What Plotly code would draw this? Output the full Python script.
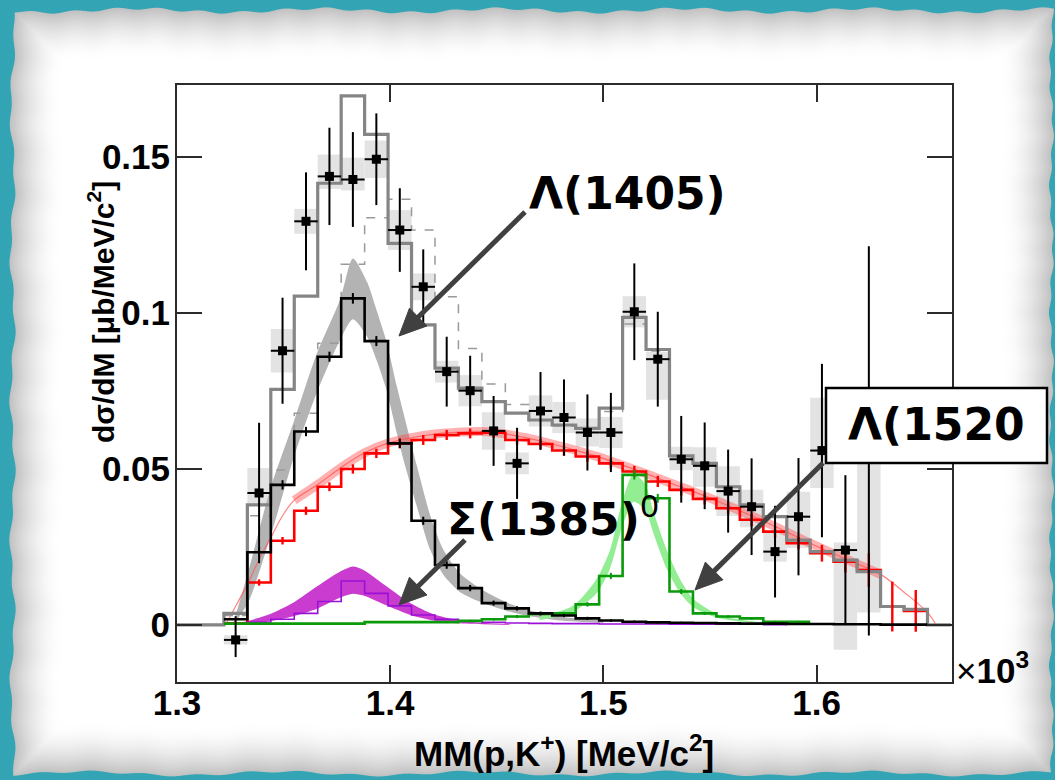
import base64
import struct
import zlib

import numpy as np
import plotly.graph_objects as go

# ---------------------------------------------------------------- binning
bin_edges = [1.322, 1.333, 1.344, 1.355, 1.366, 1.377, 1.388, 1.399, 1.410,
             1.421, 1.432, 1.443, 1.454, 1.465, 1.476, 1.487, 1.498, 1.509,
             1.520, 1.531, 1.542, 1.553, 1.564, 1.575, 1.586, 1.597, 1.608,
             1.619, 1.630, 1.641, 1.652, 1.663]

# ---------------------------------------------------------------- measured spectrum
data_y = [-0.0048, 0.0423, 0.0879, 0.1294, 0.1438, 0.1428, 0.1493, 0.1266,
          0.1084, 0.0812, 0.0751, 0.0622, 0.0518, 0.0686, 0.0665, 0.0617,
          0.0617, 0.1004, 0.0852, 0.0531, 0.0510, 0.0429, 0.0379, 0.0235,
          0.0347, 0.0559, 0.0240, 0.0590]
data_stat = [0.0055, 0.0225, 0.0170, 0.0157, 0.0156, 0.0152, 0.0147, 0.0134,
             0.0120, 0.0112, 0.0112, 0.0112, 0.0114, 0.0125, 0.0122, 0.0122,
             0.0127, 0.0155, 0.0152, 0.0139, 0.0139, 0.0133, 0.0155, 0.0147,
             0.0188, 0.0278, 0.0240, 0.0624]
sys_up = [0.0015, 0.0080, 0.0070, 0.0040, 0.0070, 0.0070, 0.0060, 0.0064,
          0.0043, 0.0035, 0.0050, 0.0060, 0.0035, 0.0050, 0.0050, 0.0045,
          0.0050, 0.0050, 0.0024, 0.0040, 0.0060, 0.0080, 0.0054, 0.0064,
          0.0080, 0.0169, 0.0024, 0.0110]
sys_dn = [0.0015, 0.0040, 0.0070, 0.0040, 0.0040, 0.0035, 0.0060, 0.0064,
          0.0043, 0.0035, 0.0050, 0.0060, 0.0035, 0.0050, 0.0050, 0.0045,
          0.0050, 0.0050, 0.0130, 0.0035, 0.0067, 0.0080, 0.0066, 0.0032,
          0.0100, 0.0120, 0.0320, 0.0550]

# ---------------------------------------------------------------- fit histograms
total_fit = [0.0037, 0.0385, 0.0755, 0.1054, 0.1416, 0.1696, 0.1573, 0.1223,
             0.0962, 0.0823, 0.0759, 0.0716, 0.0679, 0.0657, 0.0641, 0.0630,
             0.0695, 0.0986, 0.0883, 0.0542, 0.0518, 0.0443, 0.0385, 0.0347,
             0.0272, 0.0235, 0.0208, 0.0171, 0.0059, 0.0050, 0.0]
alt_fit = [0.0030, 0.0350, 0.0497, 0.0679, 0.0903, 0.1156, 0.1305, 0.1365,
           0.1266, 0.1052, 0.0886, 0.0772, 0.0707, 0.0655, 0.0638, 0.0628,
           0.0684, 0.0965, 0.0878, 0.0540, 0.0516, 0.0441, 0.0383, 0.0345,
           0.0270, 0.0233, 0.0206, 0.0170, 0.0058, 0.0049, 0.0]
lambda1405 = [0.0018, 0.0233, 0.0449, 0.0620, 0.0860, 0.1047, 0.0910, 0.0582,
              0.0334, 0.0192, 0.0118, 0.0070, 0.0053, 0.0037, 0.0030, 0.0021,
              0.0014, 0.0010, 0.0008, 0.0007, 0.0006, 0.0005, 0.0004, 0.0004,
              0.0003, 0.0003, 0.0002, 0.0002, 0.0001, 0.0001]
lambda1405_err = [0.0010, 0.0015, 0.0015, 0.0015, 0.0016, 0.0017, 0.0016,
                  0.0015, 0.0013, 0.0012, 0.0010, 0.0008, 0.0007, 0.0006,
                  0.0005, 0.0005, 0.0004, 0.0004, 0.0003, 0.0003, 0.0003,
                  0.0003, 0.0002, 0.0002, 0.0002, 0.0002, 0.0002, 0.0002,
                  0.0001, 0.0001]
phase_space = [0.0005, 0.0136, 0.0270, 0.0366, 0.0443, 0.0500, 0.0550, 0.0582,
               0.0593, 0.0609, 0.0614, 0.0616, 0.0593, 0.0580, 0.0559, 0.0540,
               0.0518, 0.0492, 0.0460, 0.0433, 0.0404, 0.0374, 0.0337, 0.0299,
               0.0262, 0.0230, 0.0203, 0.0176, 0.0059, 0.0045]
phase_space_err = [0.0005, 0.0010, 0.0012, 0.0013, 0.0014, 0.0015, 0.0015,
                   0.0016, 0.0016, 0.0016, 0.0016, 0.0016, 0.0016, 0.0016,
                   0.0017, 0.0017, 0.0017, 0.0018, 0.0018, 0.0018, 0.0018,
                   0.0019, 0.0020, 0.0020, 0.0020, 0.0027, 0.0035, 0.0054,
                   0.0080, 0.0067]
sigma1385 = [0.0003, 0.0008, 0.0018, 0.0037, 0.0075, 0.0141, 0.0101, 0.0061,
             0.0032, 0.0018, 0.0012, 0.0008, 0.0006, 0.0005, 0.0004, 0.0004,
             0.0003, 0.0003, 0.0003, 0.0002, 0.0002, 0.0002, 0.0002, 0.0001]
lambda1520 = [0.0004, 0.0004, 0.0004, 0.0004, 0.0004, 0.0004, 0.0009, 0.0009,
              0.0009, 0.0009, 0.0013, 0.0018, 0.0027, 0.0035, 0.0037, 0.0066,
              0.0157, 0.0481, 0.0406, 0.0107, 0.0037, 0.0027, 0.0021, 0.0010,
              0.0010]
lambda1520_err = [0.0002, 0.0002, 0.0002, 0.0002, 0.0002, 0.0002, 0.0003,
                  0.0003, 0.0003, 0.0003, 0.0003, 0.0004, 0.0005, 0.0005,
                  0.0005, 0.0007, 0.0010, 0.0015, 0.0014, 0.0008, 0.0005,
                  0.0004, 0.0004, 0.0003, 0.0003]

# ---------------------------------------------------------------- smooth line shapes
l1405_x = [1.3265, 1.3336, 1.3437, 1.3547, 1.3656, 1.3766, 1.3825, 1.3891,
           1.3938, 1.3984, 1.4031, 1.4062, 1.4125, 1.4188, 1.4250, 1.4328,
           1.4437, 1.4547, 1.4656, 1.4800, 1.5000]
l1405_hi = [0.0008, 0.0175, 0.0435, 0.0650, 0.0870, 0.1045, 0.1175, 0.1100,
            0.1005, 0.0905, 0.0765, 0.0680, 0.0510, 0.0350, 0.0240, 0.0165,
            0.0110, 0.0072, 0.0046, 0.0026, 0.0014]
l1405_lo = [0.0, 0.0075, 0.0280, 0.0535, 0.0745, 0.0915, 0.0980, 0.0925,
            0.0845, 0.0750, 0.0615, 0.0530, 0.0380, 0.0240, 0.0160, 0.0105,
            0.0070, 0.0045, 0.0028, 0.0014, 0.0006]

s1385_x = [1.326, 1.3328, 1.3437, 1.3547, 1.3656, 1.3766, 1.3825, 1.3875,
           1.3984, 1.4094, 1.4203, 1.4313, 1.443, 1.456]
s1385_hi = [0.0003, 0.0012, 0.0035, 0.0072, 0.0123, 0.0171, 0.0187, 0.0176,
            0.0123, 0.0070, 0.0034, 0.0016, 0.0007, 0.0002]
s1385_lo = [0.0, 0.0004, 0.0012, 0.0028, 0.0052, 0.0088, 0.0100, 0.0094,
            0.0062, 0.0032, 0.0014, 0.0005, 0.0002, 0.0]

l1520_x = [1.470, 1.4859, 1.4969, 1.5031, 1.5086, 1.5141, 1.5195, 1.5234,
           1.5297, 1.5359, 1.5422, 1.5531, 1.565, 1.580]
l1520_hi = [0.0025, 0.0062, 0.0148, 0.0240, 0.0390, 0.0485, 0.0452, 0.0365,
            0.0240, 0.0147, 0.0083, 0.0036, 0.0016, 0.0006]
l1520_lo = [0.0015, 0.0042, 0.0102, 0.0180, 0.0310, 0.0395, 0.0370, 0.0295,
            0.0180, 0.0103, 0.0057, 0.0024, 0.0010, 0.0004]

ps_curve_x = [1.3227, 1.3275, 1.333, 1.3385, 1.344, 1.3495, 1.355, 1.366,
              1.377, 1.388, 1.399, 1.410, 1.421, 1.432, 1.443, 1.454, 1.465,
              1.476, 1.487, 1.498, 1.509, 1.520, 1.531, 1.542, 1.553, 1.564,
              1.575, 1.586, 1.597, 1.608, 1.619, 1.630, 1.641, 1.652, 1.656]
ps_curve_y = [0.0, 0.0060, 0.0130, 0.0210, 0.0280, 0.0350, 0.0400, 0.0450,
              0.0505, 0.0552, 0.0583, 0.0600, 0.0612, 0.0618, 0.0620, 0.0612,
              0.0598, 0.0580, 0.0560, 0.0538, 0.0512, 0.0485, 0.0456, 0.0428,
              0.0398, 0.0366, 0.0333, 0.0298, 0.0262, 0.0228, 0.0196, 0.0162,
              0.0105, 0.0040, 0.0]

# ---------------------------------------------------------------- axis setup
x_range = [1.3, 1.6635]
y_range = [-0.0183, 0.1731]
x_ticks = [1.3, 1.4, 1.5, 1.6]
x_ticktext = ["1.3", "1.4", "1.5", "1.6"]
y_ticks = [0.0, 0.05, 0.1, 0.15]
y_ticktext = ["0", "0.05", "0.1", "0.15"]

W, H = 1055, 780
ML, MR, MT, MB = 177, 103, 85, 98
PW, PH = W - ML - MR, H - MT - MB


def px(xp):
    """figure pixel column -> paper x"""
    return (xp - ML) / PW


def py(yp):
    """figure pixel row -> paper y"""
    return (H - MB - yp) / PH


edges = np.array(bin_edges)
centers = 0.5 * (edges[:-1] + edges[1:])
half_w = 0.5 * np.diff(edges)


def step(vals, lead=False):
    n = len(vals)
    xs = list(edges[:n + 1])
    ys = list(vals) + [vals[-1]]
    if lead:
        xs = [x_range[0]] + xs
        ys = [0.0] + ys
    return xs, ys


# ---------------------------------------------------------------- card backdrop
def card_png():
    yy, xx = np.mgrid[0:H, 0:W].astype(float)
    left = 12 + 2.0 * np.sin(yy / 23.0) + 1.2 * np.sin(yy / 7.3)
    right = 1051 + 1.5 * np.sin(yy / 19.0 + 1.0) + 1.0 * np.sin(yy / 5.1)
    top = 10 + 2.0 * np.sin(xx / 29.0) + 1.2 * np.sin(xx / 6.7)
    bottom = 773 + 2.0 * np.sin(xx / 31.0 + 2.0) + 1.0 * np.sin(xx / 8.3)
    d = np.minimum.reduce([xx - left, right - xx, yy - top, bottom - yy])
    shade = 255.0 - 62.0 * np.clip(1.0 - d / 48.0, 0.0, 1.0) ** 1.7
    card = np.stack([shade, shade, shade], axis=-1)
    tex = 3.0 * np.sin(xx * 2.3 + yy * 1.7) * np.cos(yy * 2.9 - xx * 0.7) \
        + 2.0 * np.sin(xx * 5.1 - yy * 3.7)
    teal = np.stack([52 + tex, 165 + tex, 180 + tex], axis=-1)
    a = np.clip(d + 0.5, 0.0, 1.0)[..., None]
    img = np.clip(a * card + (1 - a) * teal, 0, 255).astype(np.uint8)
    raw = b"".join(b"\x00" + img[i].tobytes() for i in range(H))

    def chunk(tag, payload):
        body = tag + payload
        return struct.pack(">I", len(payload)) + body + \
            struct.pack(">I", zlib.crc32(body) & 0xFFFFFFFF)

    png = (b"\x89PNG\r\n\x1a\n"
           + chunk(b"IHDR", struct.pack(">IIBBBBB", W, H, 8, 2, 0, 0, 0))
           + chunk(b"IDAT", zlib.compress(raw, 9))
           + chunk(b"IEND", b""))
    return "data:image/png;base64," + base64.b64encode(png).decode()


fig = go.Figure()

# systematic-error boxes
d_y = np.array(data_y)
fig.add_trace(go.Bar(
    x=centers[:len(data_y)], y=np.array(sys_up) + np.array(sys_dn),
    base=d_y - np.array(sys_dn), width=2 * half_w[:len(data_y)],
    marker=dict(color="#e3e3e3", line=dict(width=0)), hoverinfo="skip"))


def band(xs, lo, hi, color):
    fig.add_trace(go.Scatter(x=xs, y=lo, mode="lines",
                             line=dict(width=0, shape="spline", smoothing=0.7),
                             hoverinfo="skip"))
    fig.add_trace(go.Scatter(x=xs, y=hi, mode="lines",
                             line=dict(width=0, shape="spline", smoothing=0.7),
                             fill="tonexty", fillcolor=color, hoverinfo="skip"))


band(l1405_x, l1405_lo, l1405_hi, "#b3b3b3")
band(s1385_x, s1385_lo, s1385_hi, "#c93ccf")
band(l1520_x, l1520_lo, l1520_hi, "#93ee93")

# phase-space curve: thin everywhere, widened uncertainty band in the bulk
fig.add_trace(go.Scatter(x=ps_curve_x, y=ps_curve_y, mode="lines",
                         line=dict(color="rgba(255,90,90,0.75)", width=1.2,
                                   shape="spline"), hoverinfo="skip"))
fig.add_trace(go.Scatter(x=ps_curve_x[6:32], y=ps_curve_y[6:32], mode="lines",
                         line=dict(color="rgba(255,70,70,0.42)", width=9,
                                   shape="spline"), hoverinfo="skip"))

# histograms
hx, hy = step(phase_space)
fig.add_trace(go.Scatter(x=hx, y=hy, mode="lines",
                         line=dict(color="#ff0000", width=2.6, shape="hv"),
                         hoverinfo="skip"))
hx, hy = step(alt_fit)
fig.add_trace(go.Scatter(x=hx, y=hy, mode="lines",
                         line=dict(color="#9a9a9a", width=1.5, dash="dash",
                                   shape="hv"), hoverinfo="skip"))
hx, hy = step(total_fit, lead=True)
fig.add_trace(go.Scatter(x=hx, y=hy, mode="lines",
                         line=dict(color="#858585", width=3.2, shape="hv"),
                         hoverinfo="skip"))
fig.add_trace(go.Scatter(x=centers[:len(phase_space)], y=phase_space,
                         mode="markers", marker=dict(size=2, color="#ff0000"),
                         error_y=dict(type="data", array=phase_space_err,
                                      width=0, thickness=2.4, color="#ff0000"),
                         hoverinfo="skip"))
hx, hy = step(sigma1385)
fig.add_trace(go.Scatter(x=hx, y=hy, mode="lines",
                         line=dict(color="#9a10d6", width=1.6, shape="hv"),
                         hoverinfo="skip"))
hx, hy = step(lambda1520)
fig.add_trace(go.Scatter(x=hx, y=hy, mode="lines",
                         line=dict(color="#0a9a0a", width=2.6, shape="hv"),
                         hoverinfo="skip"))
fig.add_trace(go.Scatter(x=centers[:len(lambda1520)], y=lambda1520,
                         mode="markers", marker=dict(size=2, color="#0a9a0a"),
                         error_y=dict(type="data", array=lambda1520_err,
                                      width=0, thickness=2, color="#0a9a0a"),
                         hoverinfo="skip"))
hx, hy = step(lambda1405)
fig.add_trace(go.Scatter(x=hx, y=hy, mode="lines",
                         line=dict(color="#000000", width=2.6, shape="hv"),
                         hoverinfo="skip"))
fig.add_trace(go.Scatter(x=centers[:len(lambda1405)], y=lambda1405,
                         mode="markers", marker=dict(size=2, color="#000000"),
                         error_y=dict(type="data", array=lambda1405_err,
                                      width=0, thickness=2, color="#000000"),
                         hoverinfo="skip"))

# data points
fig.add_trace(go.Scatter(
    x=centers[:len(data_y)], y=data_y, mode="markers",
    marker=dict(symbol="square", size=9, color="black"),
    error_y=dict(type="data", array=data_stat, width=0, thickness=2,
                 color="black"),
    error_x=dict(type="data", array=half_w[:len(data_y)], width=0,
                 thickness=2, color="black"),
    hoverinfo="skip"))

tick_font = dict(family="Liberation Sans, Arial, sans-serif", size=35,
                 color="black", weight="bold")
axis_common = dict(showgrid=False, zeroline=False, showline=True,
                   linecolor="#2b2b2b", linewidth=2, mirror="ticks",
                   ticks="inside", tickcolor="#2b2b2b", tickwidth=2,
                   tickfont=tick_font, automargin=False)

fig.update_xaxes(range=x_range, tickvals=x_ticks, ticktext=x_ticktext,
                 ticklen=17, ticklabelstandoff=-11, **axis_common)
fig.update_yaxes(range=y_range, tickvals=y_ticks, ticktext=y_ticktext,
                 ticklen=25, ticklabelstandoff=-2, **axis_common)


# callout arrows: shaft + filled head, laid out in figure pixels
def arrow_shapes(tail, tip, head_len=27.0, head_half=12.5, color="#404040"):
    t = np.array(tail, float)
    h = np.array(tip, float)
    u = (h - t) / np.linalg.norm(h - t)
    n = np.array([-u[1], u[0]])
    base = h - head_len * u
    p1, p2 = base + head_half * n, base - head_half * n
    shaft_end = base + 2.0 * u
    return [
        dict(type="line", xref="paper", yref="paper",
             x0=px(t[0]), y0=py(t[1]), x1=px(shaft_end[0]),
             y1=py(shaft_end[1]), line=dict(color=color, width=5),
             layer="above"),
        dict(type="path", xref="paper", yref="paper",
             path=(f"M {px(h[0])} {py(h[1])} L {px(p1[0])} {py(p1[1])} "
                   f"L {px(p2[0])} {py(p2[1])} Z"),
             fillcolor=color, line=dict(color=color, width=1),
             layer="above"),
    ]


label_font = dict(family="DejaVu Sans, sans-serif", size=44, color="black")
axis_title_font = dict(family="Liberation Sans, Arial, sans-serif", size=35,
                       color="black", weight="bold")

annotations = [
    dict(text="<b>Λ(1405)</b>", x=px(527), y=py(193), xref="paper",
         yref="paper", xanchor="left", yanchor="middle", showarrow=False,
         font=label_font),
    dict(text="<b>Σ(1385)</b><sup>0</sup>", x=px(445), y=py(516),
         xref="paper", yref="paper", xanchor="left", yanchor="middle",
         showarrow=False, font=label_font),
    dict(text="<b>Λ(1520</b>", x=px(936), y=py(425), xref="paper",
         yref="paper", xanchor="center", yanchor="middle", showarrow=False,
         font=label_font),
    dict(text="MM(p,K<sup>+</sup>) [MeV/c<sup>2</sup>]", x=px(564),
         y=py(751), xref="paper", yref="paper", xanchor="center",
         yanchor="middle", showarrow=False, font=axis_title_font),
    dict(text="dσ/dM [μb/MeV/c<sup>2</sup>]", x=px(101), y=py(312),
         xref="paper", yref="paper", xanchor="center", yanchor="middle",
         textangle=-90, showarrow=False,
         font=dict(axis_title_font, size=30)),
    dict(text="×<b>10</b><sup><b>3</b></sup>", x=px(954), y=py(668),
         xref="paper", yref="paper", xanchor="left", yanchor="middle",
         showarrow=False,
         font=dict(family="Liberation Sans, Arial, sans-serif", size=35,
                   color="black")),
]

shapes = []
shapes += arrow_shapes((525, 212), (399, 336))
shapes += arrow_shapes((465, 540), (399, 605))
shapes += arrow_shapes((823, 463), (695, 590))
shapes.append(dict(type="rect", xref="paper", yref="paper", x0=px(826),
                   x1=px(1047), y0=py(463), y1=py(388), fillcolor="white",
                   line=dict(color="black", width=2.5), layer="above"))

fig.update_layout(
    width=W, height=H, margin=dict(l=ML, r=MR, t=MT, b=MB, pad=0),
    paper_bgcolor="#36a4b3", plot_bgcolor="white", showlegend=False,
    barmode="overlay", annotations=annotations, shapes=shapes,
    images=[dict(source=card_png(), xref="paper", yref="paper",
                 x=px(0), y=py(0), sizex=W / PW, sizey=H / PH,
                 xanchor="left", yanchor="top", sizing="stretch",
                 layer="below")],
)

fig.write_html("out.html")
